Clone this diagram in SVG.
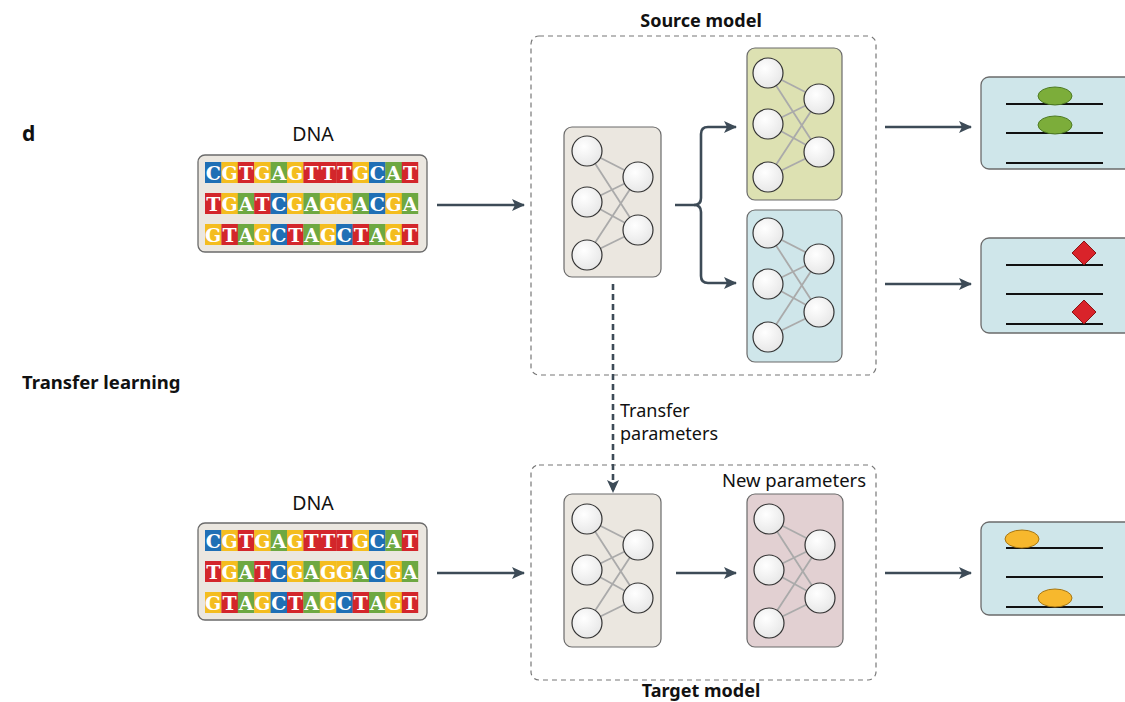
<svg xmlns="http://www.w3.org/2000/svg" xmlns:xlink="http://www.w3.org/1999/xlink" width="1125" height="702" viewBox="0 0 1125 702">
<style>
.lbl{font-family:"Noto Sans","Open Sans",sans-serif;fill:#111}
.bold{font-weight:bold}
.C{fill:#1f6fb5}.G{fill:#f4bd1f}.T{fill:#d3262b}.A{fill:#6ea842}
.nt{font-family:"DejaVu Serif","Liberation Serif",serif;font-weight:bold;font-size:19px;fill:#fff;text-anchor:middle}
.dnabox{fill:#ebe7e0;stroke:#6b6b6b;stroke-width:1.3}
.netbox{stroke:#6b6b6b;stroke-width:1.2}
.beige{fill:#ebe7e0}.green{fill:#dde1b2}.blue{fill:#cfe6ea}.pink{fill:#e2d0d2}
.node{stroke:#333;stroke-width:1.2}
.edge{stroke:#aaa;stroke-width:1.8}
.model{fill:none;stroke:#777;stroke-width:1.2;stroke-dasharray:5 4}
.out{fill:#cfe6ea;stroke:#6b6b6b;stroke-width:1.3}
.track{stroke:#111;stroke-width:2}
.arrow{fill:none;stroke:#3d4b57;stroke-width:2.6}
</style>
<defs>
<marker id="ah" markerWidth="14" markerHeight="12" refX="12" refY="6" orient="auto" markerUnits="userSpaceOnUse">
<path d="M0,0 L13,6 L0,12 L3,6 Z" fill="#3d4b57"/>
</marker>
<radialGradient id="ng" cx="0.4" cy="0.35" r="0.7"><stop offset="0" stop-color="#ffffff"/><stop offset="1" stop-color="#e6e6e6"/></radialGradient>
<g id="net">
<g class="edge">
<line x1="22" y1="25" x2="73" y2="51"/><line x1="22" y1="25" x2="73" y2="104"/>
<line x1="22" y1="76" x2="73" y2="51"/><line x1="22" y1="76" x2="73" y2="104"/>
<line x1="22" y1="129" x2="73" y2="51"/><line x1="22" y1="129" x2="73" y2="104"/>
</g>
<g class="node" fill="url(#ng)">
<circle cx="22" cy="25" r="15"/><circle cx="22" cy="76" r="15"/><circle cx="22" cy="129" r="15"/>
<circle cx="73" cy="51" r="15"/><circle cx="73" cy="104" r="15"/>
</g>
</g>
<g id="dna">
<rect class="dnabox" x="198" y="155" width="229" height="97" rx="7"/>
<rect class="C" x="205" y="162" width="16.6" height="21"/><rect class="G" x="221.4" y="162" width="16.6" height="21"/><rect class="T" x="237.8" y="162" width="16.6" height="21"/><rect class="G" x="254.2" y="162" width="16.6" height="21"/><rect class="A" x="270.6" y="162" width="16.6" height="21"/><rect class="G" x="287" y="162" width="16.6" height="21"/><rect class="T" x="303.4" y="162" width="16.6" height="21"/><rect class="T" x="319.8" y="162" width="16.6" height="21"/><rect class="T" x="336.2" y="162" width="16.6" height="21"/><rect class="G" x="352.6" y="162" width="16.6" height="21"/><rect class="C" x="369" y="162" width="16.6" height="21"/><rect class="A" x="385.4" y="162" width="16.6" height="21"/><rect class="T" x="401.8" y="162" width="16.4" height="21"/>
<rect class="T" x="205" y="193" width="16.6" height="21"/><rect class="G" x="221.4" y="193" width="16.6" height="21"/><rect class="A" x="237.8" y="193" width="16.6" height="21"/><rect class="T" x="254.2" y="193" width="16.6" height="21"/><rect class="C" x="270.6" y="193" width="16.6" height="21"/><rect class="G" x="287" y="193" width="16.6" height="21"/><rect class="A" x="303.4" y="193" width="16.6" height="21"/><rect class="G" x="319.8" y="193" width="16.6" height="21"/><rect class="G" x="336.2" y="193" width="16.6" height="21"/><rect class="A" x="352.6" y="193" width="16.6" height="21"/><rect class="C" x="369" y="193" width="16.6" height="21"/><rect class="G" x="385.4" y="193" width="16.6" height="21"/><rect class="A" x="401.8" y="193" width="16.4" height="21"/>
<rect class="G" x="205" y="224" width="16.6" height="21"/><rect class="T" x="221.4" y="224" width="16.6" height="21"/><rect class="A" x="237.8" y="224" width="16.6" height="21"/><rect class="G" x="254.2" y="224" width="16.6" height="21"/><rect class="C" x="270.6" y="224" width="16.6" height="21"/><rect class="T" x="287" y="224" width="16.6" height="21"/><rect class="A" x="303.4" y="224" width="16.6" height="21"/><rect class="G" x="319.8" y="224" width="16.6" height="21"/><rect class="C" x="336.2" y="224" width="16.6" height="21"/><rect class="T" x="352.6" y="224" width="16.6" height="21"/><rect class="A" x="369" y="224" width="16.6" height="21"/><rect class="G" x="385.4" y="224" width="16.6" height="21"/><rect class="T" x="401.8" y="224" width="16.4" height="21"/>
<text class="nt" x="213.2 229.6 246 262.4 278.8 295.2 311.6 328 344.4 360.8 377.2 393.6 410" y="179.5">CGTGAGTTTGCAT</text>
<text class="nt" x="213.2 229.6 246 262.4 278.8 295.2 311.6 328 344.4 360.8 377.2 393.6 410" y="210.5">TGATCGAGGACGA</text>
<text class="nt" x="213.2 229.6 246 262.4 278.8 295.2 311.6 328 344.4 360.8 377.2 393.6 410" y="241.5">GTAGCTAGCTAGT</text>
</g>
</defs>
<rect width="1125" height="702" fill="#fff"/>

<g id="labels">
<text class="lbl bold" x="22" y="141" font-size="21">d</text>
<text class="lbl bold" x="22" y="389" font-size="18.5">Transfer learning</text>
</g>

<g id="dna-top">
<text class="lbl" x="313" y="141" font-size="19.5" text-anchor="middle">DNA</text>
<use xlink:href="#dna"/>
</g>
<g id="dna-bottom">
<text class="lbl" x="313" y="510" font-size="19.5" text-anchor="middle">DNA</text>
<use xlink:href="#dna" transform="translate(0,368)"/>
</g>

<g id="source-model">
<rect class="model" x="531" y="36" width="345" height="339" rx="8"/>
<text class="lbl bold" x="701" y="27" font-size="18" text-anchor="middle">Source model</text>
</g>
<g id="target-model">
<rect class="model" x="531" y="465" width="345" height="215" rx="8"/>
<text class="lbl bold" x="701" y="697" font-size="18" text-anchor="middle">Target model</text>
<text class="lbl" x="794" y="487" font-size="18.5" text-anchor="middle">New parameters</text>
</g>

<g id="net-source">
<rect class="netbox beige" x="564" y="127" width="97" height="150" rx="8"/>
<use xlink:href="#net" transform="translate(565,126)"/>
</g>
<g id="net-green">
<rect class="netbox green" x="747" y="48" width="95" height="152" rx="8"/>
<use xlink:href="#net" transform="translate(746,48)"/>
</g>
<g id="net-blue">
<rect class="netbox blue" x="747" y="210" width="95" height="152" rx="8"/>
<use xlink:href="#net" transform="translate(746,208)"/>
</g>
<g id="net-target">
<rect class="netbox beige" x="564" y="494" width="97" height="153" rx="8"/>
<use xlink:href="#net" transform="translate(565,494)"/>
</g>
<g id="net-new">
<rect class="netbox pink" x="747" y="494" width="96" height="153" rx="8"/>
<use xlink:href="#net" transform="translate(747,494)"/>
</g>

<g id="out-green">
<rect class="out" x="981" y="77" width="160" height="92" rx="8"/>
<line class="track" x1="1006" y1="104" x2="1103" y2="104"/>
<line class="track" x1="1006" y1="133" x2="1103" y2="133"/>
<line class="track" x1="1006" y1="163" x2="1103" y2="163"/>
<ellipse cx="1055" cy="96" rx="17" ry="9" fill="#7cad3a" stroke="#4d7a22" stroke-width="1"/>
<ellipse cx="1055" cy="125" rx="17" ry="9" fill="#7cad3a" stroke="#4d7a22" stroke-width="1"/>
</g>
<g id="out-red">
<rect class="out" x="981" y="238" width="160" height="95" rx="8"/>
<line class="track" x1="1006" y1="265" x2="1103" y2="265"/>
<line class="track" x1="1006" y1="294" x2="1103" y2="294"/>
<line class="track" x1="1006" y1="324" x2="1103" y2="324"/>
<path d="M1084,241 L1096,253 L1084,265 L1072,253 Z" fill="#d9232a" stroke="#8a1515" stroke-width="1"/>
<path d="M1084,300 L1096,312 L1084,324 L1072,312 Z" fill="#d9232a" stroke="#8a1515" stroke-width="1"/>
</g>
<g id="out-yellow">
<rect class="out" x="981" y="522" width="160" height="93" rx="8"/>
<line class="track" x1="1006" y1="548" x2="1103" y2="548"/>
<line class="track" x1="1006" y1="577" x2="1103" y2="577"/>
<line class="track" x1="1006" y1="607" x2="1103" y2="607"/>
<ellipse cx="1022" cy="539" rx="17" ry="9" fill="#f7b82d" stroke="#a8760f" stroke-width="1"/>
<ellipse cx="1055" cy="598" rx="17" ry="9" fill="#f7b82d" stroke="#a8760f" stroke-width="1"/>
</g>

<g id="connectors">
<line class="arrow" x1="437" y1="205" x2="524" y2="205" marker-end="url(#ah)"/>
<path class="arrow" d="M675,205 H694 Q701,205 701,198 V134 Q701,127 708,127 H736" marker-end="url(#ah)"/>
<path class="arrow" d="M694,205 Q701,205 701,212 V276 Q701,283 708,283 H736" marker-end="url(#ah)"/>
<line class="arrow" x1="885" y1="127" x2="971" y2="127" marker-end="url(#ah)"/>
<line class="arrow" x1="885" y1="284" x2="971" y2="284" marker-end="url(#ah)"/>
<line class="arrow" x1="437" y1="573" x2="524" y2="573" marker-end="url(#ah)"/>
<line class="arrow" x1="676" y1="573" x2="736" y2="573" marker-end="url(#ah)"/>
<line class="arrow" x1="885" y1="573" x2="971" y2="573" marker-end="url(#ah)"/>
<line class="arrow" x1="613" y1="284" x2="613" y2="492" stroke-width="3" stroke-dasharray="6 4" marker-end="url(#ah)"/>
<text class="lbl" x="620" y="417" font-size="18">Transfer</text>
<text class="lbl" x="620" y="440" font-size="18">parameters</text>
</g>
</svg>
